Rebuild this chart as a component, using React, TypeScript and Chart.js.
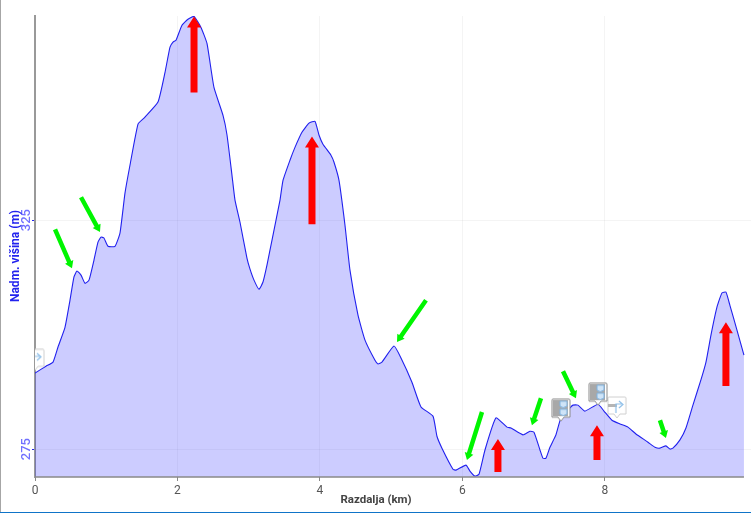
import React, { useEffect, useRef } from "react";
import { Chart, registerables } from "chart.js";

Chart.register(...registerables);

const distanceKm = [0,0.154,0.253,0.323,0.421,0.491,0.547,0.589,0.646,0.702,0.758,0.828,0.884,0.926,0.968,1.025,1.123,1.193,1.263,1.333,1.446,1.53,1.726,1.825,1.895,1.937,1.979,2.063,2.147,2.232,2.33,2.414,2.512,2.639,2.695,2.765,2.807,2.877,2.975,3.018,3.074,3.144,3.2,3.256,3.326,3.439,3.481,3.579,3.649,3.747,3.846,3.93,3.986,4.042,4.154,4.196,4.267,4.351,4.421,4.533,4.632,4.772,4.814,4.87,5.039,5.137,5.291,5.418,5.586,5.642,5.712,5.867,5.909,6.049,6.105,6.175,6.232,6.316,6.47,6.625,6.681,6.849,6.947,7.004,7.088,7.13,7.172,7.228,7.312,7.382,7.509,7.551,7.621,7.719,7.902,7.986,8.098,8.211,8.323,8.435,8.604,8.702,8.772,8.856,8.912,8.954,9.053,9.137,9.235,9.347,9.418,9.488,9.572,9.642,9.698,9.754,9.853,9.951];
const elevationM = [291.6,293.1,294,297.3,301.6,307.5,312.6,313.9,313,311.2,311.9,316.3,320.2,321.3,321.1,319.3,319.3,322.2,330.9,337,346,347.3,350.8,357.3,362.8,363.9,364.3,367.6,368.9,369.5,367.1,363.6,354,347.9,343.6,334.8,329.4,324.6,316.7,314.3,311.9,309.9,311.5,315.2,320.6,329.4,333.7,338.1,340.9,344.2,346.2,346.6,343.6,341.6,339.2,337.7,333.7,323.9,314.1,304.3,298.8,294.4,293.6,294,297.5,294.9,289.6,284.2,282.2,277.8,275.2,270.6,270.4,271.5,270.2,269.1,269.5,274.8,281.8,279.8,279.6,278.1,278.9,278.7,274.8,273,273,275.4,278.1,281.8,284,284.6,284.6,283.3,284.8,283.3,281.3,280.5,279.8,278.3,276.5,275.4,275.2,275.7,275,275.2,277,279.6,284.6,290.1,294,299.9,306,309.1,309.3,306.4,301,295.5];

const xTickValues = [0, 2, 4, 6, 8];
const yTickValues = [275, 325];
const xTitle = "Razdalja (km)";
const yTitle = "Nadm. višina (m)";

// [tail km, tail m, head km, head m]
const redArrows = [
  [2.232, 352.9, 2.232, 369.5],
  [3.888, 324.1, 3.888, 343.3],
  [6.498, 270, 6.498, 277.2],
  [7.888, 272.6, 7.888, 280.2],
  [9.698, 288.8, 9.698, 302.7],
];
const greenArrows = [
  [0.281, 323, 0.519, 314.5],
  [0.646, 330, 0.912, 322.4],
  [5.488, 307.5, 5.081, 298.4],
  [6.274, 283.1, 6.063, 272.6],
  [7.102, 286.1, 6.975, 280.2],
  [7.411, 292, 7.593, 286.1],
  [8.772, 281.3, 8.856, 277.4],
];

const dropMarkers = [
  { x: 7.382, y: 281.1 },
  { x: 7.902, y: 284.6 },
];
const turnMarkers = [
  { x: 0, y: 292.2 },
  { x: 8.168, y: 281.8 },
];

const FONT = "Roboto, 'Liberation Sans', sans-serif";

function bubble(ctx: CanvasRenderingContext2D, w: number, h: number, stroke: string) {
  const bodyH = h - 4;
  ctx.beginPath();
  ctx.moveTo(2, 1);
  ctx.lineTo(w - 2, 1);
  ctx.quadraticCurveTo(w - 1, 1, w - 1, 2);
  ctx.lineTo(w - 1, bodyH);
  ctx.lineTo(w / 2 + 3, bodyH);
  ctx.lineTo(w / 2, h);
  ctx.lineTo(w / 2 - 3, bodyH);
  ctx.lineTo(1, bodyH);
  ctx.lineTo(1, 2);
  ctx.quadraticCurveTo(1, 1, 2, 1);
  ctx.closePath();
  ctx.fillStyle = "#ffffff";
  ctx.fill();
  ctx.strokeStyle = stroke;
  ctx.lineWidth = 1;
  ctx.stroke();
}

function makeDropIcon() {
  const w = 20, h = 23;
  const c = document.createElement("canvas");
  c.width = w;
  c.height = h * 2;
  const ctx = c.getContext("2d")!;
  bubble(ctx, w, h, "#8a8a8a");
  ctx.fillStyle = "#a8a8a8";
  ctx.fillRect(2, 2, w - 5, h - 7);
  ctx.fillStyle = "#cfe4f7";
  ctx.strokeStyle = "#7fb2e0";
  [6, 14].forEach((cy) => {
    ctx.beginPath();
    ctx.moveTo(9, cy - 3);
    ctx.lineTo(16, cy - 3);
    ctx.lineTo(16, cy + 2);
    ctx.quadraticCurveTo(12, cy + 5, 9, cy + 2);
    ctx.closePath();
    ctx.fill();
    ctx.stroke();
  });
  return c;
}

function makeTurnIcon() {
  const w = 20, h = 22;
  const c = document.createElement("canvas");
  c.width = w;
  c.height = h * 2;
  const ctx = c.getContext("2d")!;
  bubble(ctx, w, h, "#d0d0d0");
  ctx.fillStyle = "#b5b5b5";
  ctx.fillRect(1, 8, 9, 3);
  ctx.strokeStyle = "#8fc0ea";
  ctx.lineWidth = 1.2;
  ctx.beginPath();
  ctx.moveTo(9, 17);
  ctx.lineTo(9, 8);
  ctx.lineTo(15, 8);
  ctx.moveTo(12, 5);
  ctx.lineTo(16, 8.5);
  ctx.lineTo(12, 12);
  ctx.stroke();
  return c;
}

const overlayPlugin = {
  id: "overlay",
  afterDatasetsDraw(chart: any) {
    const { ctx, scales } = chart;
    const sx = scales.x;
    const sy = scales.y;
    const arrow = (a: number[], color: string, shaft: number, head: number, headLen: number) => {
      const x0 = sx.getPixelForValue(a[0]);
      const y0 = sy.getPixelForValue(a[1]);
      const x1 = sx.getPixelForValue(a[2]);
      const y1 = sy.getPixelForValue(a[3]);
      const len = Math.hypot(x1 - x0, y1 - y0);
      const ux = (x1 - x0) / len;
      const uy = (y1 - y0) / len;
      const nx = -uy;
      const ny = ux;
      const bx = x1 - ux * headLen;
      const by = y1 - uy * headLen;
      ctx.save();
      ctx.fillStyle = color;
      ctx.beginPath();
      ctx.moveTo(x0 + (nx * shaft) / 2, y0 + (ny * shaft) / 2);
      ctx.lineTo(bx + (nx * shaft) / 2, by + (ny * shaft) / 2);
      ctx.lineTo(bx + (nx * head) / 2, by + (ny * head) / 2);
      ctx.lineTo(x1, y1);
      ctx.lineTo(bx - (nx * head) / 2, by - (ny * head) / 2);
      ctx.lineTo(bx - (nx * shaft) / 2, by - (ny * shaft) / 2);
      ctx.lineTo(x0 - (nx * shaft) / 2, y0 - (ny * shaft) / 2);
      ctx.closePath();
      ctx.fill();
      ctx.restore();
    };
    greenArrows.forEach((a) => arrow(a, "#00f500", 4.5, 9, 7));
    redArrows.forEach((a) => arrow(a, "#ff0000", 7, 14, 11));

    ctx.save();
    // x axis line runs only as far as the profile
    ctx.strokeStyle = "#888888";
    ctx.lineWidth = 1.5;
    ctx.beginPath();
    ctx.moveTo(sx.getPixelForValue(0), sy.bottom);
    ctx.lineTo(sx.getPixelForValue(distanceKm[distanceKm.length - 1]), sy.bottom);
    ctx.stroke();

    yTickValues.forEach((v) => {
      ctx.save();
      ctx.translate(27, sy.getPixelForValue(v));
      ctx.rotate(-Math.PI / 2);
      ctx.font = `500 13px ${FONT}`;
      ctx.fillStyle = "#7070ff";
      ctx.textAlign = "center";
      ctx.textBaseline = "middle";
      ctx.fillText(String(v), 0, 0);
      ctx.restore();
    });
    ctx.save();
    ctx.translate(16, 256);
    ctx.rotate(-Math.PI / 2);
    ctx.font = `bold 12px ${FONT}`;
    ctx.fillStyle = "#2222ee";
    ctx.textAlign = "center";
    ctx.textBaseline = "middle";
    ctx.fillText(yTitle, 0, 0);
    ctx.restore();
    ctx.font = `bold 11.5px ${FONT}`;
    ctx.fillStyle = "#444444";
    ctx.textAlign = "center";
    ctx.textBaseline = "middle";
    ctx.fillText(xTitle, 376, 500);
    ctx.restore();
  },
};

export default function App() {
  const ref = useRef<HTMLCanvasElement>(null);
  useEffect(() => {
    const chart = new Chart(ref.current!, {
      type: "line",
      data: {
        datasets: [
          {
            label: "markers-drop",
            data: dropMarkers,
            showLine: false,
            pointStyle: makeDropIcon(),
            pointRadius: 10,
            order: 0,
          },
          {
            label: "markers-turn",
            data: turnMarkers,
            showLine: false,
            pointStyle: makeTurnIcon(),
            pointRadius: 10,
            order: 0,
          },
          {
            label: yTitle,
            data: distanceKm.map((x, i) => ({ x, y: elevationM[i] })),
            borderColor: "#2020ee",
            borderWidth: 1.1,
            backgroundColor: "rgba(0,0,255,0.2)",
            fill: "start",
            pointRadius: 0,
            tension: 0.15,
            order: 1,
          },
        ],
      } as any,
      options: {
        responsive: false,
        animation: false,
        layout: { autoPadding: false, padding: { top: 16, left: 0, right: 0, bottom: 0 } },
        plugins: { legend: { display: false }, tooltip: { enabled: false } },
        scales: {
          x: {
            type: "linear",
            min: 0,
            max: 10.05,
            afterBuildTicks: (s: any) => {
              s.ticks = xTickValues.map((value) => ({ value }));
            },
            afterFit: (s: any) => {
              s.height = 36;
              s.paddingLeft = 0;
              s.paddingRight = 0;
            },
            border: { display: false },
            grid: { color: "rgba(0,0,0,0.045)", tickColor: "#888888", tickLength: 4 },
            ticks: {
              color: "#555555",
              font: { family: FONT, size: 12 },
              padding: 3,
              maxRotation: 0,
              callback: (v: any) => String(v),
            },
          },
          y: {
            type: "linear",
            min: 268.9,
            max: 369.6,
            afterBuildTicks: (s: any) => {
              s.ticks = yTickValues.map((value) => ({ value }));
            },
            afterFit: (s: any) => {
              s.width = 35;
            },
            border: { color: "#999999", width: 2 },
            grid: { color: "rgba(0,0,0,0.045)", tickColor: "#2222ee", tickLength: 3 },
            ticks: { display: false },
          },
        },
      } as any,
      plugins: [overlayPlugin],
    });
    return () => chart.destroy();
  }, []);
  return (
    <div style={{ position: "fixed", left: 0, top: 0, width: 751, height: 513, background: "#fff", overflow: "hidden" }}>
      <canvas ref={ref} width={751} height={513} style={{ display: "block" }} />
      <div style={{ position: "absolute", left: 0, top: 0, width: 1, height: 513, background: "#a6a6a6" }} />
      <div style={{ position: "absolute", left: 0, top: 512, width: 751, height: 1, background: "#0f74c8" }} />
    </div>
  );
}
